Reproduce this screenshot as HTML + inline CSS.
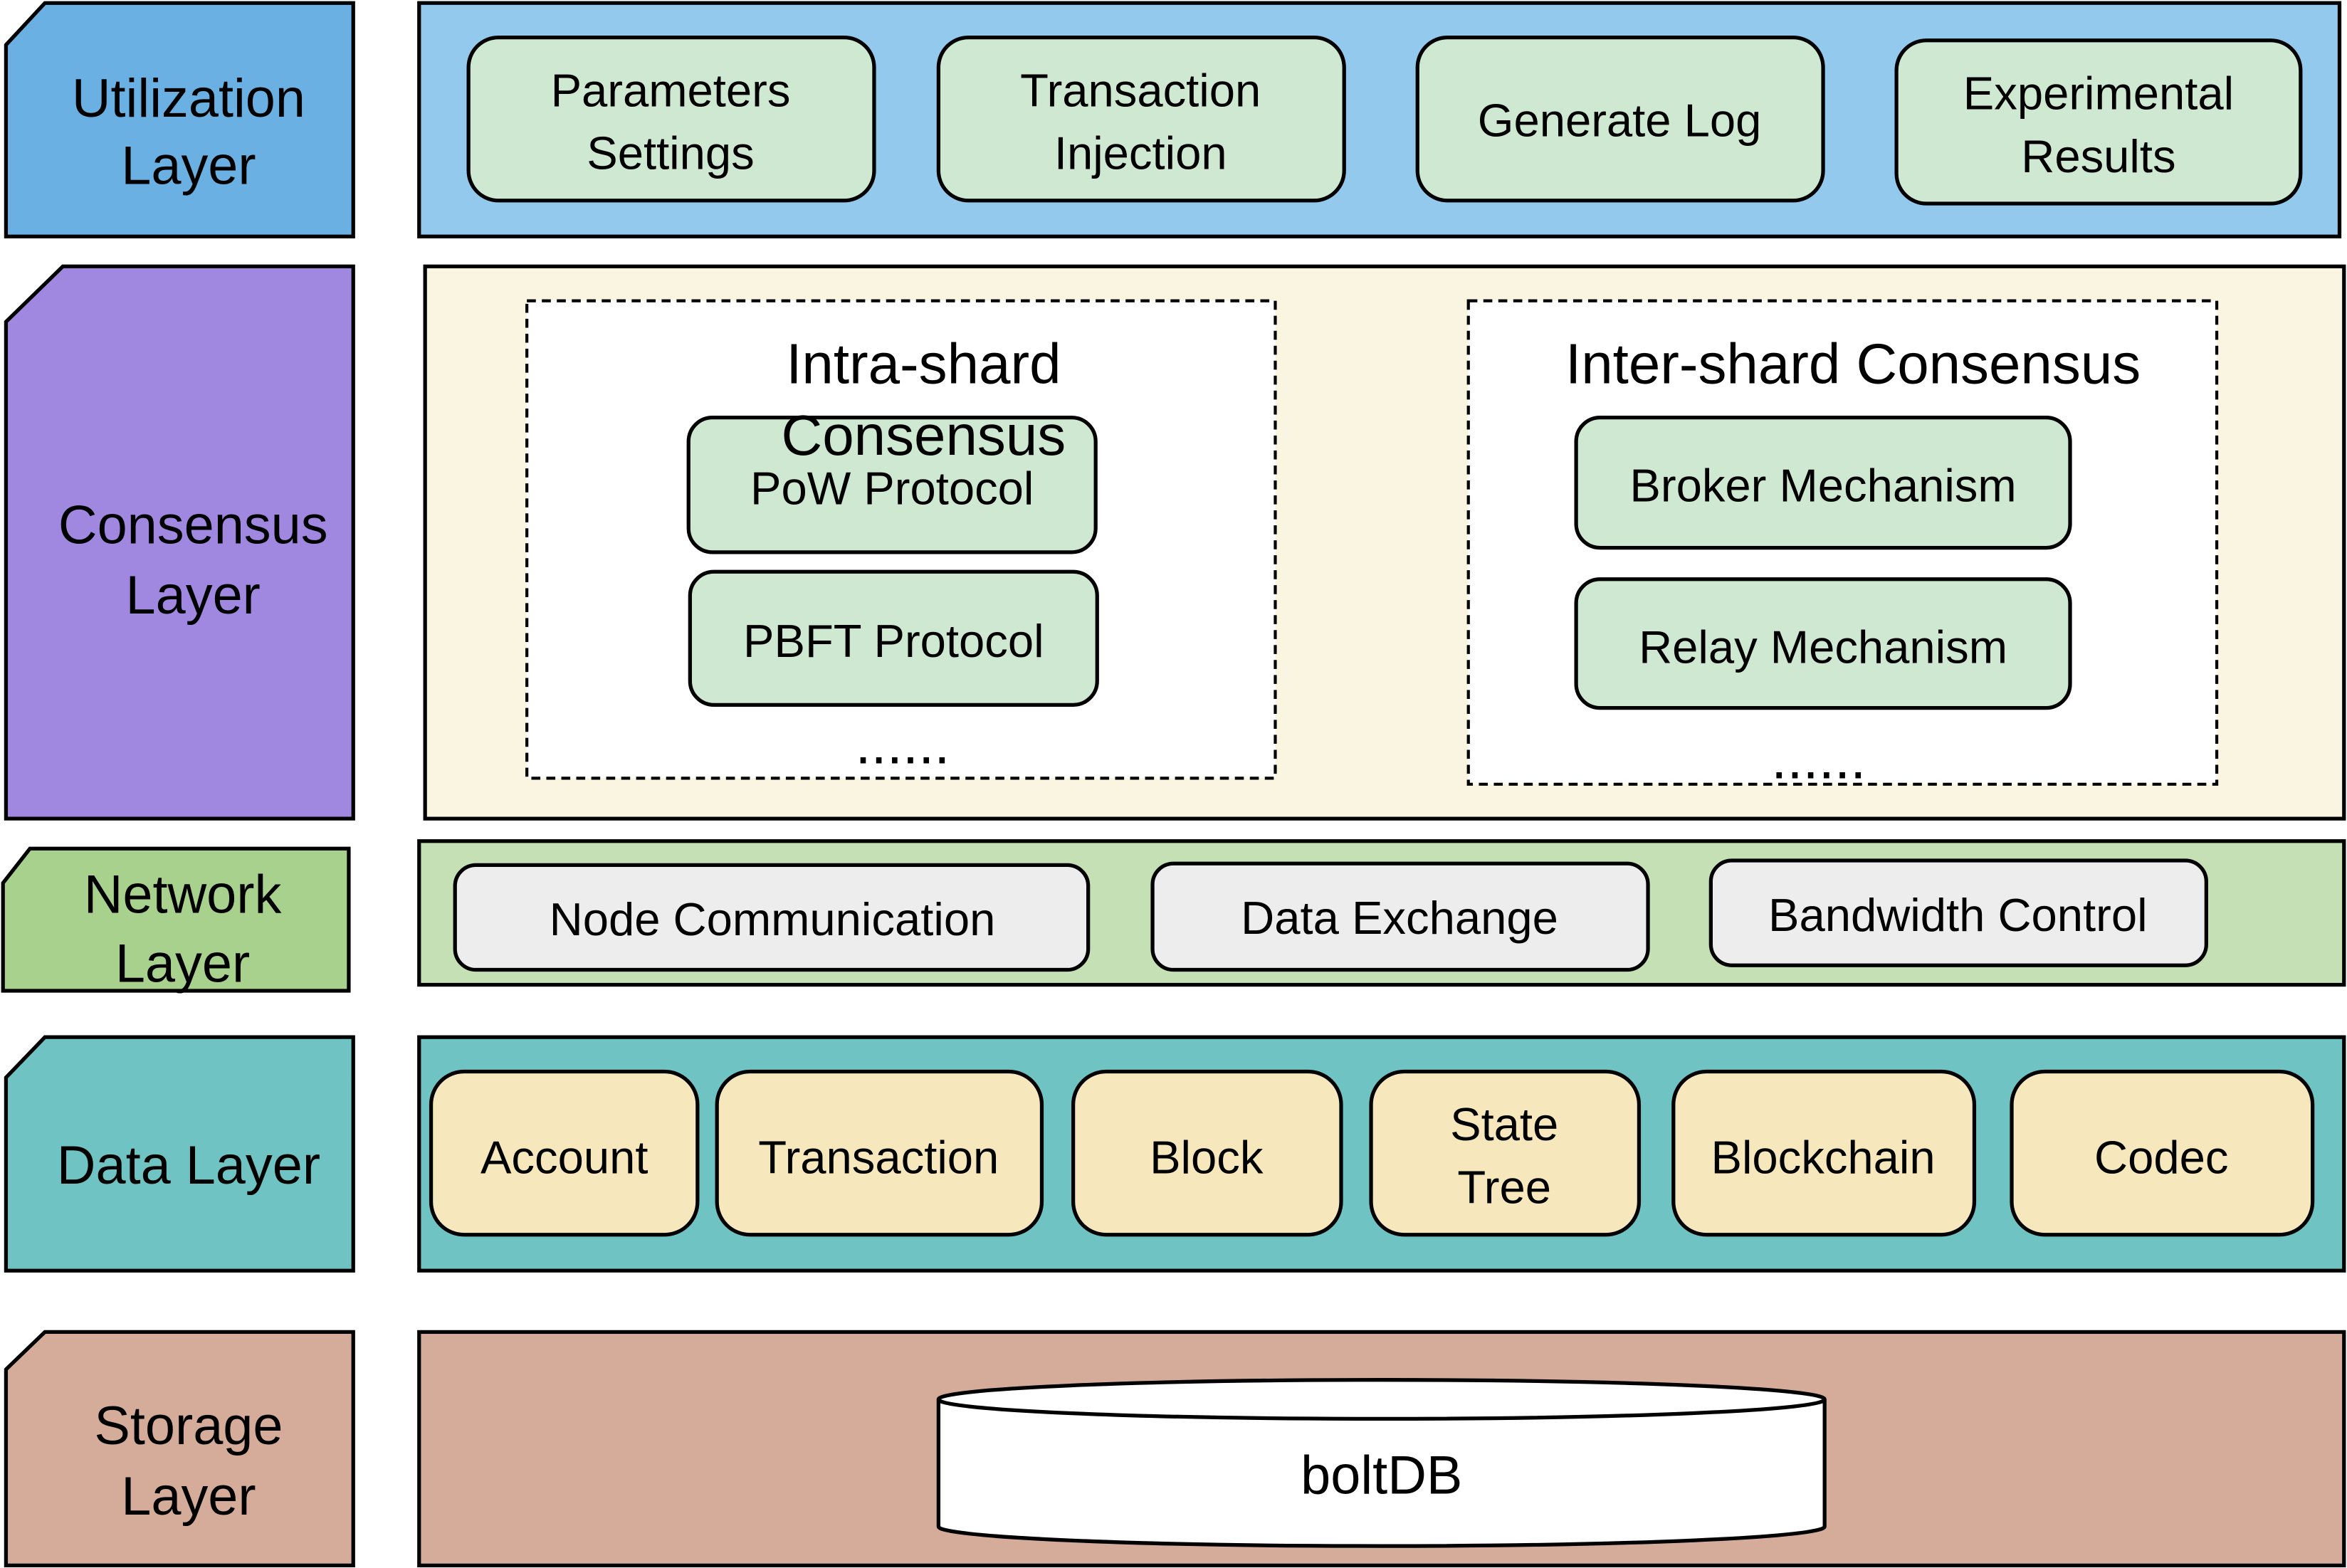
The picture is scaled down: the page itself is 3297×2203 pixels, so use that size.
<!DOCTYPE html>
<html><head><meta charset="utf-8">
<style>
html,body{margin:0;padding:0;background:#fff;}
svg{display:block;}
text{font-family:"Liberation Sans","Noto Sans CJK SC",sans-serif;fill:#000;text-anchor:middle;}
.l{font-size:36px;}
.b{font-size:31px;}
.h{font-size:38px;}
</style></head>
<body>
<svg width="3297" height="2203" viewBox="0 0 1568 1047.7" preserveAspectRatio="none" xmlns="http://www.w3.org/2000/svg">
<g stroke="#000" stroke-width="2.5">
<!-- Utilization -->
<polygon points="4,30 30,2 236,2 236,158 4,158" fill="#6ab0e3"/>
<rect x="280" y="2" width="1283" height="156" fill="#93c9ec"/>
<rect x="313" y="25" width="271" height="109" rx="20" fill="#cfe8d1"/>
<rect x="627" y="25" width="271" height="109" rx="20" fill="#cfe8d1"/>
<rect x="947" y="25" width="271" height="109" rx="20" fill="#cfe8d1"/>
<rect x="1267" y="27" width="270" height="109" rx="20" fill="#cfe8d1"/>
<!-- Consensus -->
<polygon points="4,215 42,178 236,178 236,547 4,547" fill="#a087e0"/>
<rect x="284" y="178" width="1282" height="369" fill="#faf5e0"/>
<rect x="352" y="201" width="500" height="319" fill="#fff" stroke-dasharray="6,4" stroke-width="2"/>
<rect x="981" y="201" width="500" height="323" fill="#fff" stroke-dasharray="6,4" stroke-width="2"/>
<rect x="460" y="279" width="272" height="90" rx="16" fill="#cfe8d1"/>
<rect x="461" y="382" width="272" height="89" rx="16" fill="#cfe8d1"/>
<rect x="1053" y="279" width="330" height="87" rx="16" fill="#cfe8d1"/>
<rect x="1053" y="387" width="330" height="86" rx="16" fill="#cfe8d1"/>
<!-- Network -->
<polygon points="2,590 20,567 233,567 233,662 2,662" fill="#a9d18e"/>
<rect x="280" y="562" width="1286" height="96" fill="#c5e0b4"/>
<rect x="304" y="578" width="423" height="70" rx="14" fill="#ededed"/>
<rect x="770" y="577" width="331" height="71" rx="14" fill="#ededed"/>
<rect x="1143" y="575" width="331" height="70" rx="14" fill="#ededed"/>
<!-- Data -->
<polygon points="4,720 30,693 236,693 236,849 4,849" fill="#6fc3c3"/>
<rect x="280" y="693" width="1286" height="156" fill="#6fc3c3"/>
<rect x="288" y="716" width="178" height="109" rx="22" fill="#f6e8bc"/>
<rect x="479" y="716" width="217" height="109" rx="22" fill="#f6e8bc"/>
<rect x="717" y="716" width="179" height="109" rx="22" fill="#f6e8bc"/>
<rect x="916" y="716" width="179" height="109" rx="22" fill="#f6e8bc"/>
<rect x="1118" y="716" width="201" height="109" rx="22" fill="#f6e8bc"/>
<rect x="1344" y="716" width="201" height="109" rx="22" fill="#f6e8bc"/>
<!-- Storage -->
<polygon points="4,915 30,890 236,890 236,1046 4,1046" fill="#d5ab9a"/>
<rect x="280" y="890" width="1286" height="156" fill="#d5ab9a"/>
<path d="M627,935 L627,1020 A296,13 0 0 0 1219,1020 L1219,935" fill="#fff"/>
<ellipse cx="923" cy="935" rx="296" ry="13" fill="#fff"/>
</g>
<!-- Left labels -->
<text class="l" x="126" y="78">Utilization</text>
<text class="l" x="126" y="123">Layer</text>
<text class="l" x="129" y="363">Consensus</text>
<text class="l" x="129" y="410">Layer</text>
<text class="l" x="122" y="610">Network</text>
<text class="l" x="122" y="656">Layer</text>
<text class="l" x="126" y="791">Data Layer</text>
<text class="l" x="126" y="965">Storage</text>
<text class="l" x="126" y="1012">Layer</text>
<!-- Utilization boxes -->
<text class="b" x="448" y="71">Parameters</text>
<text class="b" x="448" y="113">Settings</text>
<text class="b" x="762" y="71">Transaction</text>
<text class="b" x="762" y="113">Injection</text>
<text class="b" x="1082" y="91">Generate Log</text>
<text class="b" x="1402" y="73">Experimental</text>
<text class="b" x="1402" y="115">Results</text>
<!-- Consensus -->
<text class="h" x="617" y="256">Intra-shard</text>
<text class="h" x="617" y="304">Consensus</text>
<text class="b" x="596" y="337">PoW Protocol</text>
<text class="b" x="597" y="439">PBFT Protocol</text>
<text class="h" x="603" y="510">......</text>
<text class="h" x="1238" y="256">Inter-shard Consensus</text>
<text class="b" x="1218" y="335">Broker Mechanism</text>
<text class="b" x="1218" y="443">Relay Mechanism</text>
<text class="h" x="1215" y="520">......</text>
<!-- Network -->
<text class="b" x="516" y="625">Node Communication</text>
<text class="b" x="935" y="624">Data Exchange</text>
<text class="b" x="1308" y="622">Bandwidth Control</text>
<!-- Data -->
<text class="b" x="377" y="784">Account</text>
<text class="b" x="587" y="784">Transaction</text>
<text class="b" x="806" y="784">Block</text>
<text class="b" x="1005" y="762">State</text>
<text class="b" x="1005" y="804">Tree</text>
<text class="b" x="1218" y="784">Blockchain</text>
<text class="b" x="1444" y="784">Codec</text>
<!-- Storage -->
<text class="l" x="923" y="998">boltDB</text>
</svg>
</body></html>
